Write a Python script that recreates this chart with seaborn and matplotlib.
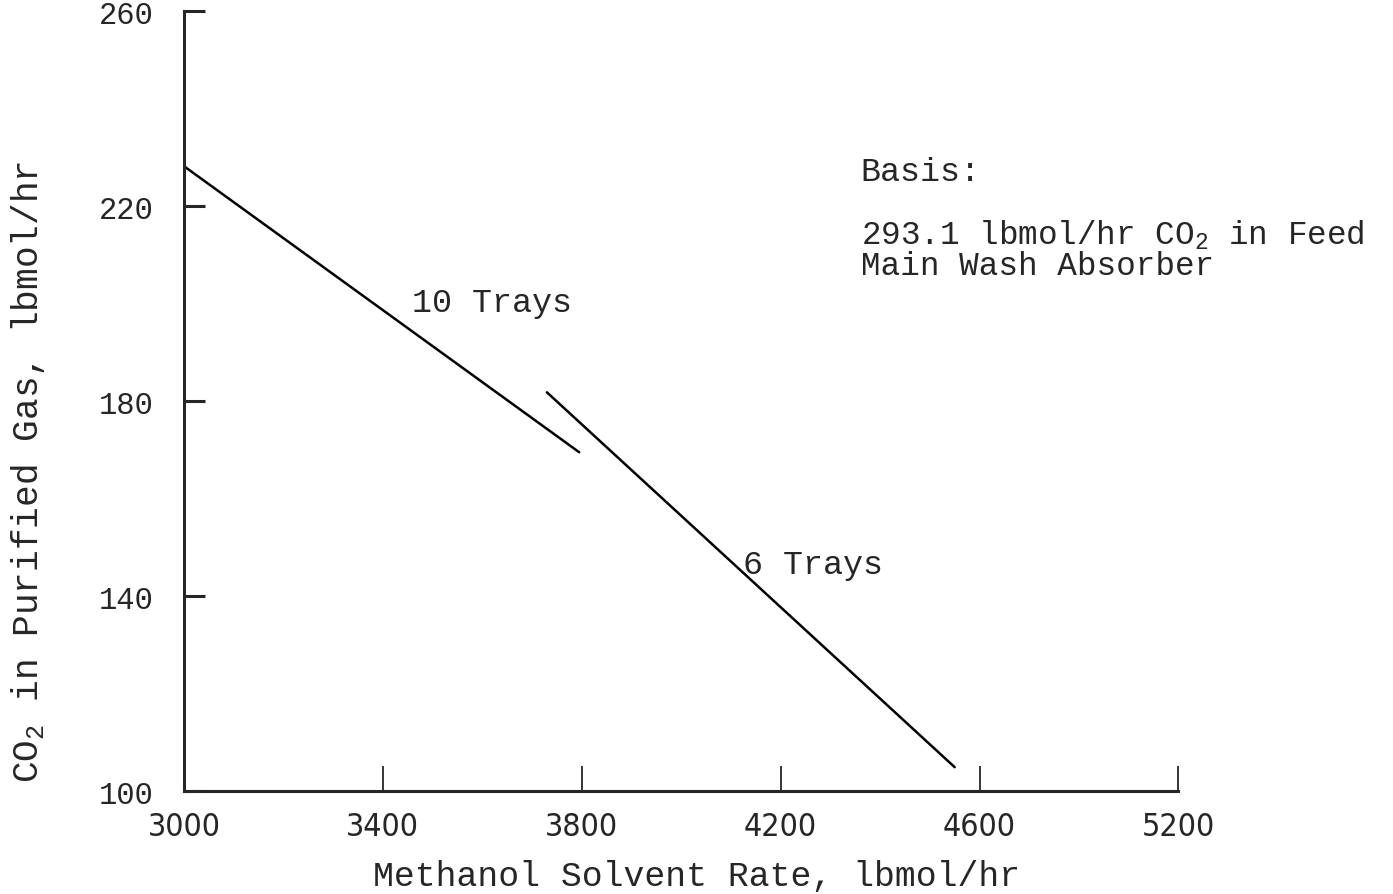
import numpy as np
import pandas as pd
import matplotlib
matplotlib.use("Agg")
import matplotlib.pyplot as plt
import seaborn as sns

# data (two straight hand-drawn lines)
rate_10 = [3000, 3795]
co2_10 = [228.2, 169.5]
rate_6 = [3730, 4550]
co2_6 = [181.8, 104.9]

xticks = [3000, 3400, 3800, 4200, 4600, 5000]
xlabels = ["3000", "3400", "3800", "4200", "4600", "5200"]
yticks = [100, 140, 180, 220, 260]

sns.set_style("ticks")
plt.rcParams["font.family"] = ["Liberation Mono", "DejaVu Sans"]
plt.rcParams["mathtext.fontset"] = "custom"
plt.rcParams["mathtext.rm"] = "Liberation Mono"
plt.rcParams["mathtext.it"] = "Liberation Mono"

df10 = pd.DataFrame({"rate": rate_10, "co2": co2_10})
df6 = pd.DataFrame({"rate": rate_6, "co2": co2_6})

fig = plt.figure(figsize=(13.93, 8.95), dpi=100)
ax = fig.add_axes([0.132, 0.115, 0.714, 0.8715])

sns.lineplot(data=df10, x="rate", y="co2", color="black", lw=1.8, ax=ax)
sns.lineplot(data=df6, x="rate", y="co2", color="black", lw=1.8, ax=ax)

ax.set_xlim(3000, 5000)
ax.set_ylim(100, 260)
ax.set_xticks(xticks)
ax.set_xticklabels(xlabels, family="DejaVu Sans", fontstretch="condensed",
                   fontweight="light", fontsize=23)
ax.set_yticks(yticks)
ax.set_yticklabels([str(v) for v in yticks], fontsize=22)
ax.tick_params(axis="x", direction="in", length=18, width=1.3, pad=14)
ax.tick_params(axis="y", direction="in", length=15, width=2.2, pad=22)

for s in ["top", "right"]:
    ax.spines[s].set_visible(False)
ax.spines["left"].set_linewidth(2.2)
ax.spines["bottom"].set_linewidth(2.2)

ax.set_xlabel("Methanol Solvent Rate, lbmol/hr", fontsize=25)
ax.xaxis.set_label_coords(0.515, -0.087)
ax.set_ylabel("CO$_2$ in Purified Gas, lbmol/hr", fontsize=26)
ax.yaxis.set_label_coords(-0.138, 0.41)

ax.text(0.229, 0.627, "10 Trays", transform=ax.transAxes, fontsize=24,
        va="center", ha="left")
ax.text(0.562, 0.291, "6 Trays", transform=ax.transAxes, fontsize=24,
        va="center", ha="left")
fig.text(0.618, 0.807, "Basis:", fontsize=24, va="center", ha="left")
fig.text(0.618, 0.737, "293.1 lbmol/hr CO$_2$ in Feed", fontsize=23.5,
         va="center", ha="left")
fig.text(0.618, 0.702, "Main Wash Absorber", fontsize=23.5, va="center",
         ha="left")

fig.savefig("out.png", dpi=100)
